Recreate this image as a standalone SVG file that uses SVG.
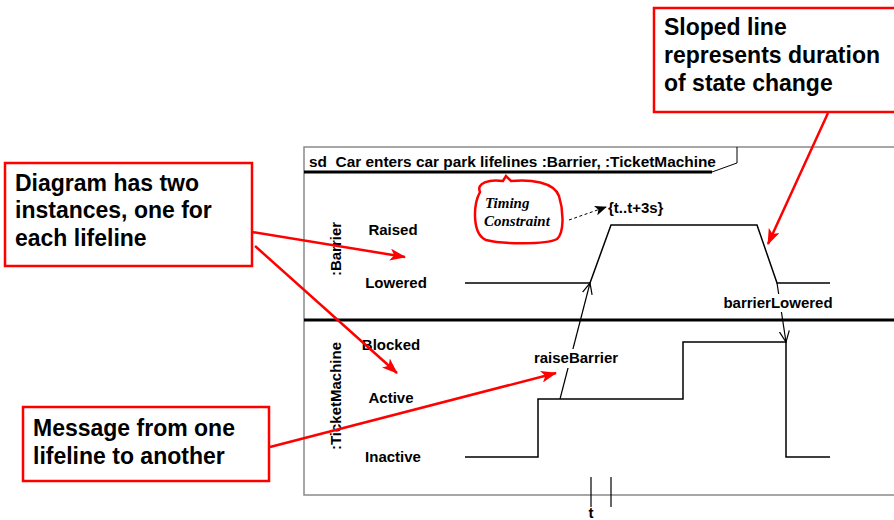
<svg xmlns="http://www.w3.org/2000/svg" width="894" height="520" viewBox="0 0 894 520">
  <style>
    .lbl { font-family: "Liberation Sans", Arial, sans-serif; font-weight: bold; font-size: 15px; fill: #000; }
    .title { font-family: "Liberation Sans", Arial, sans-serif; font-weight: bold; font-size: 15.4px; fill: #000; }
    .note { font-family: "Liberation Sans", Arial, sans-serif; font-weight: bold; font-size: 23px; fill: #000; }
    .serif { font-family: "Liberation Serif", "Times New Roman", serif; font-style: italic; font-weight: bold; font-size: 15px; fill: #000; }
    .frame { fill: none; stroke: #8a8a8a; stroke-width: 1.5; }
    .rule { stroke: #000; stroke-width: 3; fill: none; }
    .wave { stroke: #000; stroke-width: 1.5; fill: none; }
    .msg { stroke: #000; stroke-width: 1.2; fill: none; marker-end: url(#open); }
    .box { fill: #fff; stroke: #ff0000; stroke-width: 2.5; }
    .pointer { stroke: #ff0000; stroke-width: 2.5; fill: none; marker-end: url(#stealth); }
  </style>
  <defs>
    <marker id="open" viewBox="0 0 12 12" refX="11" refY="6" markerWidth="12" markerHeight="12" markerUnits="userSpaceOnUse" orient="auto">
      <path d="M0,1 L11,6 L0,11" fill="none" stroke="#000" stroke-width="1.2"/>
    </marker>
    <marker id="stealth" viewBox="0 0 16 12" refX="15" refY="6" markerWidth="16" markerHeight="12" markerUnits="userSpaceOnUse" orient="auto">
      <path d="M0,0 L16,6 L0,12 L4,6 Z" fill="#ff0000"/>
    </marker>
    <marker id="dash-head" viewBox="0 0 12 10" refX="11" refY="5" markerWidth="12" markerHeight="10" markerUnits="userSpaceOnUse" orient="auto">
      <path d="M0,0 L12,5 L0,10 L3,5 Z" fill="#000"/>
    </marker>
  </defs>

  <rect width="894" height="520" fill="#fff"/>

  <!-- sequence frame -->
  <g id="frame">
    <path class="frame" d="M894,147 L304,147 L304,495 L894,495"/>
    <line class="rule" x1="304" y1="172" x2="712" y2="172"/>
    <path d="M712,172 L737,163 L737,147" fill="none" stroke="#000" stroke-width="1"/>
    <text class="title" x="309" y="167" xml:space="preserve">sd  Car enters car park lifelines :Barrier, :TicketMachine</text>
    <line class="rule" x1="304" y1="320" x2="894" y2="320"/>
  </g>

  <!-- lifeline: Barrier -->
  <g id="barrier">
    <text class="lbl" transform="translate(341,249) rotate(-90)" text-anchor="middle">:Barrier</text>
    <text class="lbl" x="393" y="235" text-anchor="middle">Raised</text>
    <text class="lbl" x="396" y="288" text-anchor="middle">Lowered</text>
    <path class="wave" d="M465,283 L590,283 L611,225 L757,225 L777,283 L830,283"/>
  </g>

  <!-- lifeline: TicketMachine -->
  <g id="ticketmachine">
    <text class="lbl" transform="translate(341,396) rotate(-90)" text-anchor="middle">:TicketMachine</text>
    <text class="lbl" x="391" y="350" text-anchor="middle">Blocked</text>
    <text class="lbl" x="391" y="403" text-anchor="middle">Active</text>
    <text class="lbl" x="393" y="462" text-anchor="middle">Inactive</text>
    <path class="wave" d="M465,457 L538,457 L538,399 L683,399 L683,342 L786,342 L786,457 L830,457"/>
  </g>

  <!-- time markers -->
  <g id="time-axis">
    <line x1="591" y1="477" x2="591" y2="507" stroke="#000" stroke-width="1.2"/>
    <line x1="611" y1="477" x2="611" y2="507" stroke="#000" stroke-width="1.2"/>
    <text class="lbl" x="591" y="518" text-anchor="middle">t</text>
  </g>

  <!-- timing constraint -->
  <g id="timing-constraint">
    <path d="M480,192 C476,183 489,179 503,181 L506,176 L511,181 C530,179 554,182 559,196 C564,212 564,233 557,239 C546,245 501,244 486,240 C472,234 473,205 480,192 Z" fill="none" stroke="#ff0000" stroke-width="2.5"/>
    <text class="serif" x="485" y="208">Timing</text>
    <text class="serif" x="484" y="226">Constraint</text>
    <text class="lbl" x="608" y="213">{t..t+3s}</text>
  </g>

  <!-- connectors -->
  <g id="connectors">
    <line x1="569" y1="220" x2="606" y2="207" stroke="#000" stroke-width="1" stroke-dasharray="3,2.5" marker-end="url(#dash-head)"/>
    <line class="msg" x1="560" y1="399" x2="590" y2="283"/>
    <line class="msg" x1="777" y1="283" x2="786" y2="342"/>
    <rect x="531" y="349" width="90" height="19" fill="#fff"/>
    <text class="lbl" x="576" y="363" text-anchor="middle">raiseBarrier</text>
    <rect x="720" y="294" width="116" height="18" fill="#fff"/>
    <text class="lbl" x="778" y="308" text-anchor="middle">barrierLowered</text>

    <line class="pointer" x1="252" y1="232" x2="405" y2="257"/>
    <line class="pointer" x1="255" y1="246" x2="397" y2="373"/>
    <line class="pointer" x1="270" y1="447" x2="556" y2="373"/>
    <line class="pointer" x1="828" y1="113" x2="768" y2="244"/>
  </g>

  <!-- annotation notes -->
  <g id="note-instances">
    <rect class="box" x="5" y="163" width="247" height="103"/>
    <text class="note" x="15" y="191">Diagram has two</text>
    <text class="note" x="15" y="218">instances, one for</text>
    <text class="note" x="15" y="246">each lifeline</text>
  </g>
  <g id="note-message">
    <rect class="box" x="23" y="407" width="246" height="74"/>
    <text class="note" x="33" y="436">Message from one</text>
    <text class="note" x="33" y="464">lifeline to another</text>
  </g>
  <g id="note-slope">
    <rect class="box" x="654" y="8" width="250" height="104"/>
    <text class="note" x="664" y="35">Sloped line</text>
    <text class="note" x="664" y="63">represents duration</text>
    <text class="note" x="664" y="91">of state change</text>
  </g>
</svg>
